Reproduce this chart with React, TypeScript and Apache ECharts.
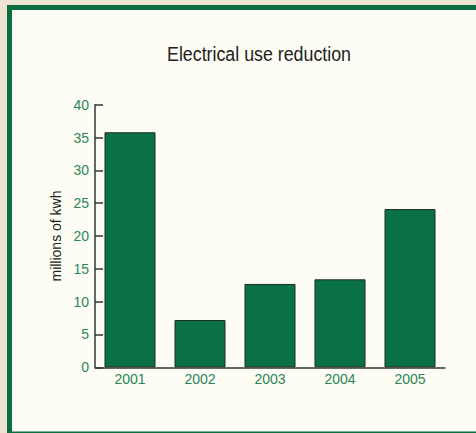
import React, { useEffect, useRef } from "react";
import * as echarts from "echarts";

const years = ["2001", "2002", "2003", "2004", "2005"];
const reductions = [35.8, 7.2, 12.7, 13.4, 24.1];
const yTicks = { min: 0, max: 40, interval: 5 };
const chartTitle = "Electrical use reduction";
const yName = "millions of kwh";

const FONT = '"Liberation Sans", Arial, sans-serif';

export default function App() {
  const ref = useRef<HTMLDivElement>(null);
  useEffect(() => {
    if (!ref.current) return;
    const chart = echarts.init(ref.current, undefined, { renderer: "svg" });
    chart.setOption({
      animation: false,
      backgroundColor: "#efe4d3",
      graphic: [
        {
          type: "rect",
          z: -10,
          shape: { x: 9.5, y: 7.5, width: 480, height: 426.5 },
          style: { fill: "#fdfdf4", stroke: "#0b6e3f", lineWidth: 5 },
          silent: true,
        },
        {
          type: "text",
          x: 259,
          y: 54,
          scaleX: 0.89,
          style: {
            text: chartTitle,
            font: `20px ${FONT}`,
            fill: "#222222",
            textAlign: "center",
            textVerticalAlign: "middle",
          },
        },
      ],
      grid: { left: 95, right: 31, top: 104.7, bottom: 65.7, containLabel: false },
      xAxis: {
        type: "category",
        data: years,
        boundaryGap: true,
        axisLine: { lineStyle: { color: "#2f3a33", width: 1.5 } },
        axisTick: { inside: true, length: 6, alignWithLabel: false, lineStyle: { color: "#2f3a33", width: 1.5 } },
        axisLabel: { color: "#2a8658", fontFamily: FONT, fontSize: 14, margin: 5 },
      },
      yAxis: {
        type: "value",
        min: yTicks.min,
        max: yTicks.max,
        interval: yTicks.interval,
        name: yName,
        nameLocation: "middle",
        nameGap: 30,
        nameRotate: 90,
        nameTextStyle: { color: "#222222", fontFamily: FONT, fontSize: 14 },
        splitLine: { show: false },
        axisLine: { show: true, lineStyle: { color: "#2f3a33", width: 1.5 } },
        axisTick: { show: true, inside: true, length: 8, lineStyle: { color: "#2f3a33", width: 1.5 } },
        axisLabel: { color: "#2a8658", fontFamily: FONT, fontSize: 14, margin: 6 },
      },
      series: [
        {
          type: "bar",
          data: reductions,
          barWidth: 51,
          itemStyle: { color: "#0a7046", borderColor: "#1d2b24", borderWidth: 1 },
        },
      ],
    });
    return () => chart.dispose();
  }, []);
  return (
    <div
      ref={ref}
      style={{ position: "fixed", left: 0, top: 0, width: 476, height: 433 }}
    />
  );
}
